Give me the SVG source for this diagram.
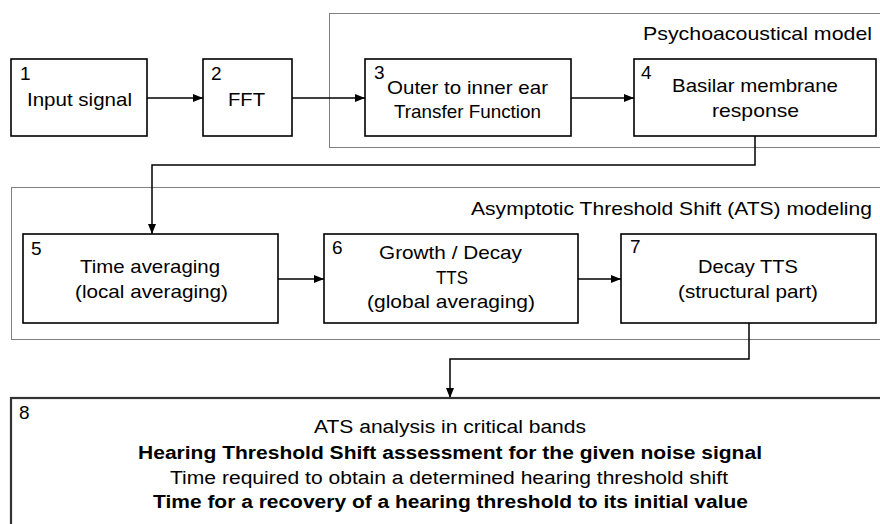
<svg xmlns="http://www.w3.org/2000/svg" width="880" height="524" viewBox="0 0 880 524">
<defs>
<marker id="ah" viewBox="0 0 10 8" refX="10" refY="4" markerWidth="10" markerHeight="8" markerUnits="userSpaceOnUse" orient="auto">
<path d="M0,0 L10,4 L0,8 Z" fill="#000"/>
</marker>
<style>
text{font-family:"Liberation Sans",Arial,sans-serif;font-size:19px;fill:#000}
.s8{font-size:18px}
.b{font-weight:bold}
.box{fill:#fff;stroke:#000;stroke-width:1.6}
.big{fill:#fff;stroke:#333;stroke-width:2.2}
.dot{fill:none;stroke:#000;stroke-width:1;stroke-dasharray:1 1}
.con{fill:none;stroke:#000;stroke-width:1.5}
</style>
</defs>
<rect width="880" height="524" fill="#fff"/>
<g id="groups">
<rect class="dot" x="329.5" y="13.5" width="560" height="134"/>
<text x="643" y="40" textLength="229" lengthAdjust="spacingAndGlyphs">Psychoacoustical model</text>
<rect class="dot" x="11.5" y="187.5" width="880" height="152"/>
<text x="471" y="215" textLength="401" lengthAdjust="spacingAndGlyphs">Asymptotic Threshold Shift (ATS) modeling</text>
</g>
<g id="connectors">
<path class="con" d="M147,98 H203" marker-end="url(#ah)"/>
<path class="con" d="M292,98 H365" marker-end="url(#ah)"/>
<path class="con" d="M571,98 H634" marker-end="url(#ah)"/>
<path class="con" d="M755,136 V165 H152 V234" marker-end="url(#ah)"/>
<path class="con" d="M278,279 H324" marker-end="url(#ah)"/>
<path class="con" d="M578,279 H621" marker-end="url(#ah)"/>
<path class="con" d="M749,323 V359 H450 V398" marker-end="url(#ah)"/>
</g>
<g id="node1">
<rect class="box" x="11" y="59" width="136" height="77"/>
<text x="20" y="80">1</text>
<text x="27" y="106" textLength="105" lengthAdjust="spacingAndGlyphs">Input signal</text>
</g>
<g id="node2">
<rect class="box" x="203" y="59" width="89" height="77"/>
<text x="211" y="80">2</text>
<text x="228" y="106" textLength="37" lengthAdjust="spacingAndGlyphs">FFT</text>
</g>
<g id="node3">
<rect class="box" x="365" y="59" width="206" height="77"/>
<text x="374" y="79">3</text>
<text x="387" y="94" textLength="161" lengthAdjust="spacingAndGlyphs">Outer to inner ear</text>
<text x="394" y="118" textLength="147" lengthAdjust="spacingAndGlyphs">Transfer Function</text>
</g>
<g id="node4">
<rect class="box" x="634" y="59" width="242" height="77"/>
<text x="641" y="79">4</text>
<text x="672" y="92" textLength="166" lengthAdjust="spacingAndGlyphs">Basilar membrane</text>
<text x="712" y="117" textLength="87" lengthAdjust="spacingAndGlyphs">response</text>
</g>
<g id="node5">
<rect class="box" x="23" y="234" width="255" height="89"/>
<text x="31" y="255">5</text>
<text x="80" y="273" textLength="140" lengthAdjust="spacingAndGlyphs">Time averaging</text>
<text x="75" y="298" textLength="153" lengthAdjust="spacingAndGlyphs">(local averaging)</text>
</g>
<g id="node6">
<rect class="box" x="324" y="234" width="254" height="89"/>
<text x="332" y="254">6</text>
<text x="379" y="259" textLength="143" lengthAdjust="spacingAndGlyphs">Growth / Decay</text>
<text x="436" y="284" textLength="32" lengthAdjust="spacingAndGlyphs">TTS</text>
<text x="367" y="308" textLength="168" lengthAdjust="spacingAndGlyphs">(global averaging)</text>
</g>
<g id="node7">
<rect class="box" x="621" y="234" width="255" height="89"/>
<text x="630" y="253">7</text>
<text x="698" y="273" textLength="100" lengthAdjust="spacingAndGlyphs">Decay TTS</text>
<text x="678" y="298" textLength="140" lengthAdjust="spacingAndGlyphs">(structural part)</text>
</g>
<g id="node8">
<rect class="big" x="11" y="398" width="880" height="140"/>
<text x="19" y="419">8</text>
<text class="s8" x="314" y="433" textLength="272" lengthAdjust="spacingAndGlyphs">ATS analysis in critical bands</text>
<text class="s8 b" x="138" y="459" textLength="624" lengthAdjust="spacingAndGlyphs">Hearing Threshold Shift assessment  for the given noise signal</text>
<text class="s8" x="170" y="484" textLength="558" lengthAdjust="spacingAndGlyphs">Time required  to obtain a determined hearing  threshold shift</text>
<text class="s8 b" x="153" y="508" textLength="595" lengthAdjust="spacingAndGlyphs">Time for a recovery  of a hearing threshold to its initial value</text>
</g>
</svg>
